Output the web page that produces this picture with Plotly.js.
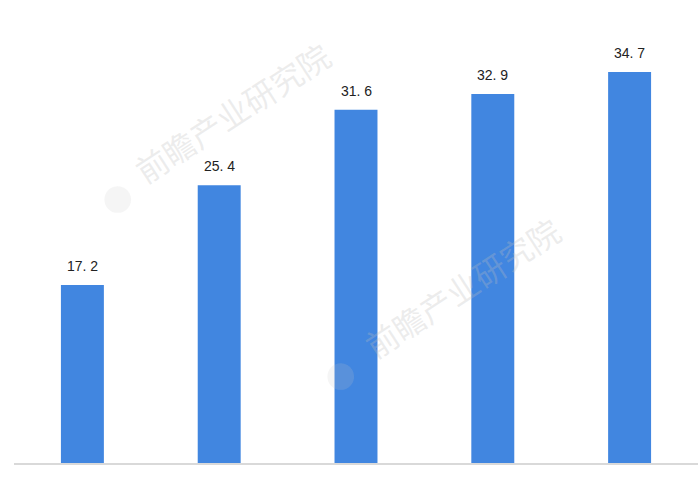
<!DOCTYPE html>
<html>
<head>
<meta charset="utf-8">
<script src="https://cdn.plot.ly/plotly-3.0.1.min.js"></script>
<style>html,body{margin:0;padding:0;background:#fff;}#chart{width:700px;height:500px;}</style>
</head>
<body>
<div id="chart"></div>
<script>
var categories = ["1", "2", "3", "4", "5"];
var values = [17.2, 25.4, 31.6, 32.9, 34.7];
var labels = ["17. 2", "25. 4", "31. 6", "32. 9", "34. 7"];

var trace = {
  type: "bar",
  x: categories,
  y: values,
  marker: {color: "#4186E0"},
  hoverinfo: "none"
};

var wm = "前瞻产业研究院";
var annotations = categories.map(function (c, i) {
  return {x: i, y: values[i], xref: "x", yref: "y", text: labels[i], showarrow: false,
          yanchor: "bottom", yshift: 9,
          font: {family: "Liberation Sans, Arial, sans-serif", size: 14, color: "#222"}};
});
annotations = annotations.concat([
  {xref: "paper", yref: "paper", x: 0.319, y: 0.758, xanchor: "center", yanchor: "middle",
   text: wm, showarrow: false, textangle: -33,
   font: {family: "Noto Sans CJK SC", size: 32, color: "rgba(190,190,190,0.28)"}},
  {xref: "paper", yref: "paper", x: 0.655, y: 0.38, xanchor: "center", yanchor: "middle",
   text: wm, showarrow: false, textangle: -33,
   font: {family: "Noto Sans CJK SC", size: 32, color: "rgba(190,190,190,0.28)"}},
  {xref: "paper", yref: "paper", x: 0.152, y: 0.583, xanchor: "center", yanchor: "middle",
   text: "●", showarrow: false,
   font: {size: 62, color: "rgba(200,200,200,0.18)"}},
  {xref: "paper", yref: "paper", x: 0.477, y: 0.2, xanchor: "center", yanchor: "middle",
   text: "●", showarrow: false,
   font: {size: 62, color: "rgba(200,200,200,0.18)"}}
]);

var layout = {
  width: 700, height: 500,
  margin: {l: 14, r: 2, t: 0, b: 37},
  paper_bgcolor: "#fff", plot_bgcolor: "#fff",
  bargap: 0.686,
  showlegend: false,
  xaxis: {type: "category", showticklabels: false, ticks: "", showgrid: false,
          showline: true, linecolor: "#d9d9d9", linewidth: 2, zeroline: false, fixedrange: true},
  yaxis: {range: [2.58, 40.62], visible: false, showgrid: false, zeroline: false, fixedrange: true},
  annotations: annotations
};

Plotly.newPlot("chart", [trace], layout, {displayModeBar: false, staticPlot: true});
</script>
</body>
</html>
